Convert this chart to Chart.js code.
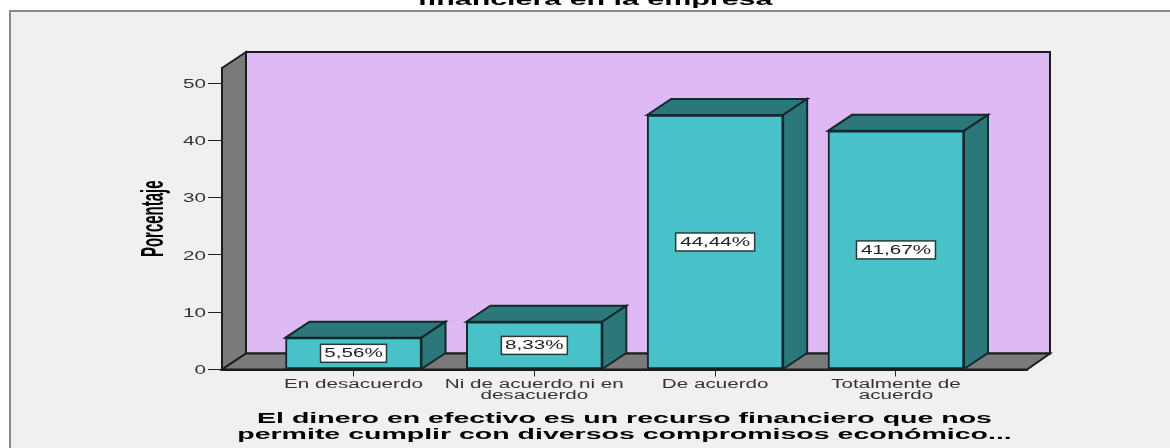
<!DOCTYPE html>
<html><head><meta charset="utf-8">
<style>html,body{margin:0;padding:0;background:#fff;overflow:hidden}canvas{display:block}</style>
<script src="https://cdn.jsdelivr.net/npm/chart.js@4"></script>
</head><body><canvas id="c" width="1170" height="448" style="width:1170px;height:448px"></canvas>
<script>
const categories = [["En desacuerdo"],["Ni de acuerdo ni en","desacuerdo"],["De acuerdo"],["Totalmente de","acuerdo"]];
const values = [5.56, 8.33, 44.44, 41.67];
const valueLabels = ["5,56%","8,33%","44,44%","41,67%"];
const yTicks = [0,10,20,30,40,50];
const yTitle = "Porcentaje";
const xTitle = ["El dinero en efectivo es un recurso financiero que nos","permite cumplir con diversos compromisos económico..."];
const chartTitle = "financiera en la empresa";

const DX = 24, DY = -16, WALLR = 1050;
const TEXT = "Liberation Sans";
const c = document.getElementById('c');
const ctx = c.getContext('2d');

// The reference is a horizontally stretched picture: every text is widened around its anchor.
const rawFill = ctx.fillText.bind(ctx);
ctx.fillText = function(t,x,y){
  const bold = /bold/.test(ctx.font);
  const m = ctx.getTransform();
  ctx.save();
  ctx.translate(x,y);
  if (Math.abs(m.b) > 0.01) ctx.scale(1,2.1);
  else ctx.scale(bold?1.9:1.72,1);
  rawFill(t,0,0);
  ctx.restore();
};

function poly(g,pts,fill,stroke,lw){
  g.beginPath();pts.forEach((p,i)=>i?g.lineTo(p[0],p[1]):g.moveTo(p[0],p[1]));g.closePath();
  g.fillStyle=fill;g.fill();
  g.strokeStyle=stroke;g.lineWidth=lw;g.lineJoin='miter';g.stroke();
}

const scene = {
  id:'scene',
  beforeDraw(ch){
    const g=ch.ctx,{left,right,top,bottom}=ch.chartArea;
    g.save();
    g.fillStyle='#fff';g.fillRect(0,0,1170,448);
    // title cut by the crop
    g.fillStyle='#000';g.font='bold 16px "'+TEXT+'"';g.textAlign='center';g.textBaseline='alphabetic';
    g.fillText(chartTitle,595,5);
    // panel
    g.fillStyle='#f0f0f0';g.fillRect(10,11,1170,437);
    g.fillStyle='#8a8a8a';g.fillRect(9,10,1161,2);g.fillRect(9,10,2,438);
    // back wall, left wall, floor
    const bx=left+DX, by=bottom+DY, ty=top+DY;
    poly(g,[[bx,ty],[WALLR,ty],[WALLR,by],[bx,by]],'#dfb9f3','#1c1c1c',2);
    poly(g,[[left,top],[bx,ty],[bx,by],[left,bottom]],'#7a7a7a','#1c1c1c',2);
    poly(g,[[left,bottom],[bx,by],[WALLR,by],[right,bottom]],'#7a7a7a','#1c1c1c',2);
    g.restore();
  },
  beforeDatasetsDraw(ch){
    const g=ch.ctx;
    g.save();
    ch.getDatasetMeta(0).data.forEach(b=>{
      const l=b.x-b.width/2,r=b.x+b.width/2,t=b.y,bt=b.base;
      poly(g,[[l,t],[l+DX,t+DY],[r+DX,t+DY],[r,t]],'#2c7779','#14282a',2);
      poly(g,[[r,t],[r+DX,t+DY],[r+DX,bt+DY],[r,bt]],'#2c7779','#14282a',2);
    });
    g.restore();
  },
  afterDatasetsDraw(ch){
    const g=ch.ctx;
    g.save();
    ch.getDatasetMeta(0).data.forEach((b,i)=>{
      const cx=b.x, cy=(b.y+b.base)/2, w=valueLabels[i].length>5?79:66, h=18;
      g.fillStyle='#fff';g.strokeStyle='#2a3a3a';g.lineWidth=1.5;
      g.fillRect(cx-w/2,cy-h/2,w,h);g.strokeRect(cx-w/2,cy-h/2,w,h);
      g.fillStyle='#222';g.font='12px "'+TEXT+'"';g.textAlign='center';g.textBaseline='middle';
      g.fillText(valueLabels[i],cx,cy+0.5);
    });
    g.restore();
  }
};

new Chart(ctx,{
  type:'bar',
  data:{datasets:[{
    data:values.map((v,i)=>({x:i,y:v})),
    backgroundColor:'#48c2c8',borderColor:'#14282a',borderWidth:2,barThickness:136,borderSkipped:false
  }]},
  options:{
    responsive:false,animation:false,devicePixelRatio:1,
    layout:{padding:{left:145,right:143,top:68,bottom:0}},
    plugins:{legend:{display:false},tooltip:{enabled:false}},
    scales:{
      x:{type:'linear',offset:false,min:-0.7273,max:3.7246,
        afterBuildTicks(s){s.ticks=categories.map((_,i)=>({value:i}));},
        afterFit(s){s.height=78.5;},
        grid:{offset:false,drawOnChartArea:false,drawTicks:true,tickLength:7,tickColor:'#222'},
        border:{display:true,color:'#1c1c1c',width:2},
        ticks:{autoSkip:false,minRotation:0,maxRotation:0,padding:2,color:'#333',
          font:{family:TEXT,size:12,lineHeight:0.95},
          callback(v){return categories[v];}},
        title:{display:true,text:xTitle,color:'#000',padding:{top:0,bottom:5.5},
          font:{family:TEXT,size:15,weight:'bold',lineHeight:1.05}}
      },
      y:{min:0,max:52.64,
        afterBuildTicks(s){s.ticks=yTicks.map(v=>({value:v}));},
        afterFit(s){s.width=77;},
        grid:{drawOnChartArea:false,drawTicks:true,tickLength:14,tickColor:'#222'},
        border:{display:true,color:'#1c1c1c',width:2},
        ticks:{padding:2,labelOffset:1.5,color:'#333',font:{family:TEXT,size:12}},
        title:{display:true,text:yTitle,color:'#000',padding:0,
          font:{family:TEXT,size:15,weight:'bold'}}
      }
    }
  },
  plugins:[scene]
});
</script></body></html>
